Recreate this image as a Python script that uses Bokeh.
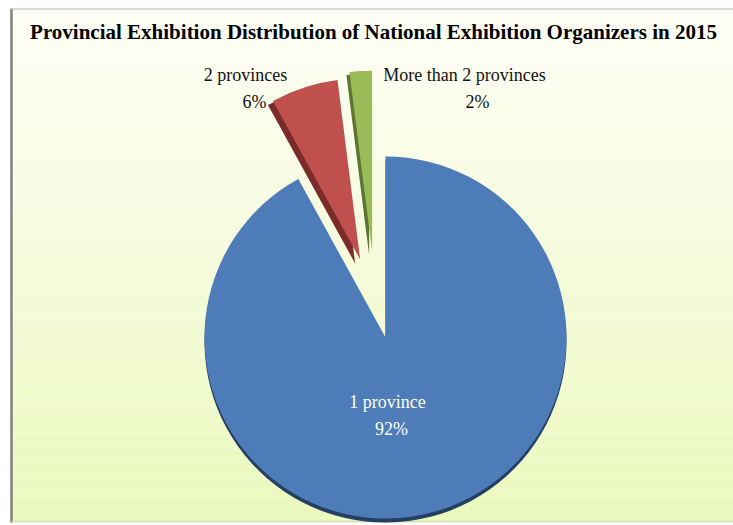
import numpy as np
from bokeh.plotting import figure
from bokeh.models import Range1d, ColumnDataSource
from bokeh.core.properties import value
from bokeh.embed import file_html
from bokeh.resources import INLINE

# ---- data ----
categories = ["1 province", "2 provinces", "More than 2 provinces"]
shares = [92, 6, 2]
pct_labels = ["92%", "6%", "2%"]
title_text = "Provincial Exhibition Distribution of National Exhibition Organizers in 2015"

# ---- style ----
colors = ["#4d7cb9", "#c0504d", "#9bbb59"]
dark_colors = ["#233f63", "#7b2c2a", "#5c7530"]
explode = [0, 82, 86]
nudge_x = [0, 0, -8]
shadow_dx = [0, -5, -3]
shadow_dy = [-4, -4, -3]
label_colors = ["white", "#111111", "#111111"]
# label offsets from the pie centre (page pixels, x right / y down)
name_off = [(2, 64), (-140, -263), (79, -263)]
pct_off = [(6, 91), (-131, -236), (92, -236)]

W, H = 733, 525
p = figure(width=W, height=H, output_backend="svg", toolbar_location=None,
           x_range=Range1d(0, W), y_range=Range1d(-H, 0),
           x_axis_location=None, y_axis_location=None, min_border=0)
p.grid.visible = False
p.outline_line_color = None
p.background_fill_color = "white"
p.border_fill_color = "white"

# background gradient (decoration)
n = 120
ys = np.linspace(8, 522, n + 1)
top_c = np.array([254, 254, 245])
bot_c = np.array([234, 248, 187])
t = np.linspace(0, 1, n) ** 1.1
cols = ["#%02x%02x%02x" % tuple(np.round(top_c + (bot_c - top_c) * ti).astype(int)) for ti in t]
p.quad(left=11, right=733, top=-ys[:-1], bottom=-ys[1:], fill_color=cols, line_color=None)
# frame border
p.segment(x0=[11], y0=[-8], x1=[11], y1=[-522], line_color="#7f7f7f", line_width=2.5)
p.segment(x0=[11], y0=[-8.5], x1=[733], y1=[-8.5], line_color="#d0d0d0", line_width=1.5)
p.segment(x0=[11], y0=[-521], x1=[733], y1=[-521], line_color="#d5e0b8", line_width=1.5)

# ---- pie ----
cx, cy, R = 385, -337, 181
vals = np.array(shares, dtype=float)
frac = vals / vals.sum()
cum = np.concatenate([[0], np.cumsum(frac)])
start = np.pi / 2 - 2 * np.pi * cum[:-1]
end = np.pi / 2 - 2 * np.pi * cum[1:]
mid = (start + end) / 2
ex = np.array(explode, dtype=float)
xs = cx + ex * np.cos(mid) + np.array(nudge_x)
ys_c = cy + ex * np.sin(mid)

shadow = ColumnDataSource(dict(x=xs + np.array(shadow_dx), y=ys_c + np.array(shadow_dy),
                               start=start, end=end, color=dark_colors))
p.wedge(x="x", y="y", radius=R, start_angle="start", end_angle="end", direction="clock",
        fill_color="color", line_color=None, source=shadow)
src = ColumnDataSource(dict(x=xs, y=ys_c, start=start, end=end, color=colors, cat=categories))
p.wedge(x="x", y="y", radius=R, start_angle="start", end_angle="end", direction="clock",
        fill_color="color", line_color=None, source=src)

# ---- labels ----
lab = ColumnDataSource(dict(
    nx=[cx + o[0] for o in name_off], ny=[cy - o[1] for o in name_off],
    px=[cx + o[0] for o in pct_off], py=[cy - o[1] for o in pct_off],
    name=categories, pct=pct_labels, color=label_colors))
p.text(x="nx", y="ny", text="name", text_color="color", text_align="center",
       text_baseline="middle", text_font=value("Liberation Serif"),
       text_font_size="18px", source=lab)
p.text(x="px", y="py", text="pct", text_color="color", text_align="center",
       text_baseline="middle", text_font=value("Liberation Serif"),
       text_font_size="18px", source=lab)

# title
p.text(x=[373], y=[-31], text=[title_text], text_align="center", text_baseline="middle",
       text_font=value("Liberation Serif"), text_font_style="bold",
       text_font_size="21px", text_color="#000000")

open("out.html", "w").write(file_html(p, INLINE))
